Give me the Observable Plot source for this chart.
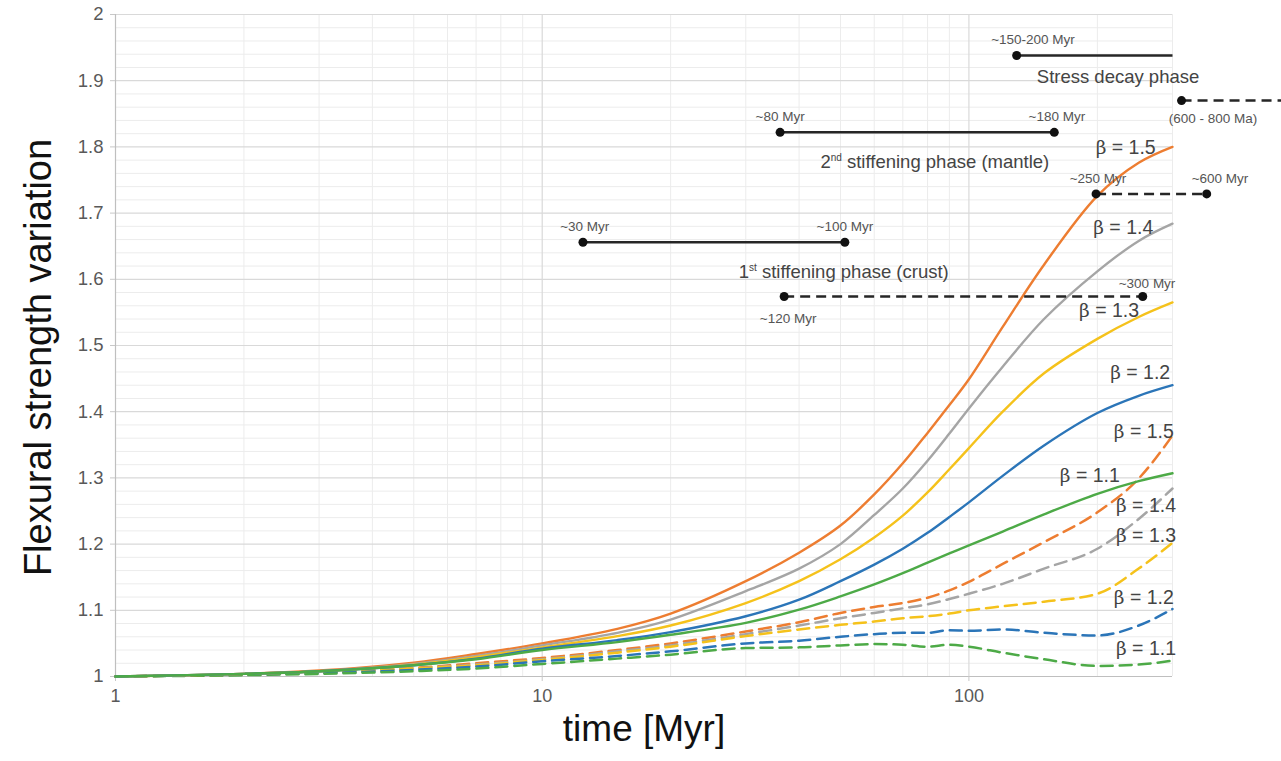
<!DOCTYPE html>
<html>
<head>
<meta charset="utf-8">
<script src="https://cdn.jsdelivr.net/npm/d3@7"></script>
<script src="https://cdn.jsdelivr.net/npm/@observablehq/plot@0.6"></script>
<style>
  html, body { margin: 0; padding: 0; background: #fff; }
  #chart svg { display: block; }
</style>
</head>
<body>
<div id="chart"></div>
<script>
// ---------- data ----------
const time = [1, 2, 3, 5, 7, 10, 15, 20, 30, 40, 50, 60, 70, 80, 90, 100, 120, 150, 200, 250, 300];
const betas = ["1.5", "1.4", "1.3", "1.2", "1.1"];
const colors = ["#ED7D31", "#A5A5A5", "#F5C21B", "#2B75B8", "#4DAA47"];

// solid curves
const solid15 = [1, 1.004, 1.009, 1.021, 1.034, 1.050, 1.072, 1.095, 1.144, 1.187, 1.228, 1.275, 1.322, 1.368, 1.410, 1.449, 1.528, 1.622, 1.726, 1.776, 1.800];
const solid14 = [1, 1.004, 1.008, 1.019, 1.031, 1.047, 1.066, 1.086, 1.129, 1.163, 1.200, 1.244, 1.284, 1.326, 1.367, 1.405, 1.468, 1.540, 1.612, 1.658, 1.684];
const solid13 = [1, 1.004, 1.008, 1.018, 1.029, 1.044, 1.061, 1.077, 1.111, 1.144, 1.177, 1.210, 1.243, 1.278, 1.313, 1.345, 1.400, 1.458, 1.510, 1.543, 1.565];
const solid12 = [1, 1.004, 1.008, 1.017, 1.027, 1.042, 1.055, 1.067, 1.091, 1.116, 1.144, 1.169, 1.193, 1.217, 1.241, 1.263, 1.303, 1.349, 1.398, 1.424, 1.440];
const solid11 = [1, 1.004, 1.008, 1.017, 1.026, 1.040, 1.052, 1.063, 1.081, 1.101, 1.121, 1.139, 1.156, 1.172, 1.186, 1.198, 1.219, 1.245, 1.276, 1.295, 1.307];
// dashed curves
const dashed15 = [1, 1.003, 1.006, 1.013, 1.020, 1.028, 1.040, 1.050, 1.068, 1.082, 1.096, 1.105, 1.111, 1.119, 1.130, 1.143, 1.170, 1.203, 1.248, 1.299, 1.364];
const dashed14 = [1, 1.003, 1.006, 1.012, 1.018, 1.026, 1.038, 1.047, 1.064, 1.077, 1.088, 1.096, 1.103, 1.109, 1.117, 1.125, 1.140, 1.163, 1.193, 1.238, 1.284];
const dashed13 = [1, 1.003, 1.006, 1.012, 1.017, 1.025, 1.036, 1.045, 1.061, 1.071, 1.078, 1.083, 1.088, 1.091, 1.095, 1.100, 1.106, 1.113, 1.125, 1.163, 1.202];
const dashed12 = [1, 1.003, 1.005, 1.010, 1.015, 1.023, 1.031, 1.038, 1.050, 1.054, 1.060, 1.064, 1.066, 1.066, 1.070, 1.069, 1.071, 1.066, 1.062, 1.077, 1.102];
const dashed11 = [1, 1.002, 1.004, 1.008, 1.012, 1.019, 1.027, 1.033, 1.043, 1.044, 1.047, 1.049, 1.048, 1.045, 1.048, 1.045, 1.036, 1.026, 1.016, 1.018, 1.024];

const xTicks = [1, 10, 100];
const yTicks = [1, 1.1, 1.2, 1.3, 1.4, 1.5, 1.6, 1.7, 1.8, 1.9, 2];
const yTickLabels = ["1", "1.1", "1.2", "1.3", "1.4", "1.5", "1.6", "1.7", "1.8", "1.9", "2"];

// curve labels
const solidLabelText = ["β = 1.5", "β = 1.4", "β = 1.3", "β = 1.2", "β = 1.1"];
const solidLabelX = [233, 230, 213, 252, 192];
const solidLabelY = [1.798, 1.678, 1.553, 1.459, 1.304];
const dashedLabelText = ["β = 1.5", "β = 1.4", "β = 1.3", "β = 1.2", "β = 1.1"];
const dashedLabelX = [257, 260, 260, 257, 260];
const dashedLabelY = [1.369, 1.258, 1.213, 1.119, 1.042];

// phase bars (time in Myr on the log axis, y level)
const barStart = [129.4, 36.1, 12.46, 315, 198.6, 36.9];
const barEnd = [300, 158.5, 51.2, 542, 360.8, 255.5];
const barY = [1.938, 1.822, 1.656, 1.870, 1.729, 1.574];
const barDashed = [false, false, false, true, true, true];
const barEndDot = [false, true, true, false, true, true];

// small bar labels
const tagText = ["~150-200 Myr", "~80 Myr", "~180 Myr", "~30 Myr", "~100 Myr", "~120 Myr", "~250 Myr", "~600 Myr", "~300 Myr", "(600 - 800 Ma)"];
const tagX = [141.3, 36.1, 160.8, 12.58, 51.2, 37.7, 200.7, 387.7, 261.5, 373.3];
const tagY = [1.962, 1.845, 1.845, 1.679, 1.679, 1.541, 1.752, 1.752, 1.594, 1.843];

// phase names
const phaseText = ["Stress decay phase", "2nd stiffening phase (mantle)", "1st stiffening phase (crust)"];
const phaseX = [223.6, 83.2, 50.9];
const phaseY = [1.905, 1.777, 1.611];

// ---------- build tables ----------
const solidSeries = [solid15, solid14, solid13, solid12, solid11];
const dashedSeries = [dashed15, dashed14, dashed13, dashed12, dashed11];
const solidRows = [], dashedRows = [];
betas.forEach((b, i) => {
  time.forEach((t, j) => {
    solidRows.push({t, v: solidSeries[i][j], beta: b});
    dashedRows.push({t, v: dashedSeries[i][j], beta: b});
  });
});
const bars = barStart.map((s, i) => ({x1: s, x2: barEnd[i], y: barY[i], dashed: barDashed[i], endDot: barEndDot[i]}));
const dots = [];
bars.forEach(b => { dots.push({x: b.x1, y: b.y}); if (b.endDot) dots.push({x: b.x2, y: b.y}); });
const tags = tagText.map((s, i) => ({s, x: tagX[i], y: tagY[i]}));
const phases = phaseText.map((s, i) => ({s, x: phaseX[i], y: phaseY[i]}));
const sLabels = solidLabelText.map((s, i) => ({s, x: solidLabelX[i], y: solidLabelY[i]}));
const dLabels = dashedLabelText.map((s, i) => ({s, x: dashedLabelX[i], y: dashedLabelY[i]}));

const minorY = d3.range(1.02, 2.0, 0.02).map(v => +v.toFixed(2)).filter(v => Math.abs(v * 10 - Math.round(v * 10)) > 1e-6);
const minorX = [2,3,4,5,6,7,8,9,20,30,40,50,60,70,80,90,200,300];

const chart = Plot.plot({
  width: 1281,
  height: 761,
  marginLeft: 115,
  marginRight: 109,
  marginTop: 14,
  marginBottom: 85,
  style: {fontFamily: "'Liberation Sans', Arial, sans-serif", background: "#fff", overflow: "visible"},
  x: {type: "log", domain: [1, 300]},
  y: {domain: [1, 2]},
  color: {domain: betas, range: colors},
  marks: [
    Plot.ruleY(minorY, {stroke: "#ececec", strokeWidth: 1}),
    Plot.ruleX(minorX, {stroke: "#ececec", strokeWidth: 1}),
    Plot.ruleY(yTicks.slice(1), {stroke: "#d9d9d9", strokeWidth: 1.2}),
    Plot.ruleX([10, 100], {stroke: "#d9d9d9", strokeWidth: 1.2}),
    Plot.ruleX([1], {stroke: "#bfbfbf", strokeWidth: 1.2}),
    Plot.ruleY([1], {stroke: "#bfbfbf", strokeWidth: 1.2}),
    Plot.axisY(yTicks, {tickSize: 5, tickPadding: 7, stroke: "#c8c8c8", fill: "#595959", fontSize: 18.5, tickFormat: (d, i) => yTickLabels[i], label: null}),
    Plot.axisX(xTicks, {tickSize: 5, tickPadding: 8, stroke: "#c8c8c8", fill: "#595959", fontSize: 18, tickFormat: d => String(d), label: null}),
    Plot.line(dashedRows, {x: "t", y: "v", z: "beta", stroke: "beta", strokeWidth: 2.5, strokeDasharray: "12,7", curve: "monotone-x"}),
    Plot.line(solidRows, {x: "t", y: "v", z: "beta", stroke: "beta", strokeWidth: 2.4, curve: "catmull-rom"}),
    Plot.link(bars.filter(b => !b.dashed), {x1: "x1", x2: "x2", y1: "y", y2: "y", stroke: "#262626", strokeWidth: 2.5}),
    Plot.link(bars.filter(b => b.dashed), {x1: "x1", x2: "x2", y1: "y", y2: "y", stroke: "#262626", strokeWidth: 2.5, strokeDasharray: "10,6"}),
    Plot.dot(dots, {x: "x", y: "y", r: 4.5, fill: "#111", stroke: "none"}),
    Plot.text(tags, {x: "x", y: "y", text: "s", fontSize: 13.5, fill: "#555"}),
    Plot.text(phases, {x: "x", y: "y", text: "s", fontSize: 18.5, fill: "#444"}),
    Plot.text(sLabels, {x: "x", y: "y", text: "s", fontSize: 19.5, fill: "#444"}),
    Plot.text(dLabels, {x: "x", y: "y", text: "s", fontSize: 19.5, fill: "#444"}),
    Plot.text(["Flexural strength variation"], {frameAnchor: "left", textAnchor: "middle", dx: -77, dy: 12, rotate: -90, fontSize: 38, fill: "#111"}),
    Plot.text(["time [Myr]"], {frameAnchor: "bottom", textAnchor: "middle", dy: 64, fontSize: 37, fill: "#111"})
  ]
});

// post-process: serif beta and ordinal superscripts
d3.select(chart).selectAll("text").each(function () {
  const el = d3.select(this);
  if (this.querySelector("tspan")) return;
  const s = this.textContent;
  if (s.startsWith("β")) {
    el.text("");
    el.append("tspan").attr("font-family", "'DejaVu Serif', 'Liberation Serif', serif").attr("font-size", "0.95em").text("β");
    el.append("tspan").text(s.slice(1));
  } else {
    const m = s.match(/^(\d)(st|nd) (.*)$/);
    if (m) {
      el.text("");
      el.append("tspan").text(m[1]);
      el.append("tspan").attr("font-size", 10).attr("dy", -7).text(m[2]);
      el.append("tspan").attr("dy", 7).text(" " + m[3]);
    }
  }
});

document.getElementById("chart").appendChild(chart);
</script>
</body>
</html>
